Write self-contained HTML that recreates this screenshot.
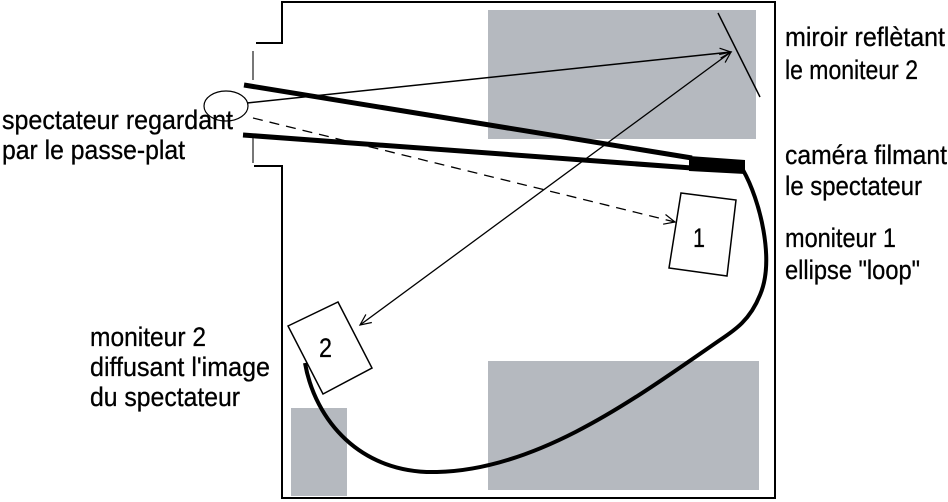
<!DOCTYPE html>
<html><head><meta charset="utf-8"><style>
html,body{margin:0;padding:0;background:#fff;}
svg{display:block;}
text{font-family:"Liberation Sans Narrow","Liberation Sans",sans-serif;font-size:27px;fill:#000;stroke:#000;stroke-width:0.3;}
</style></head><body>
<svg width="948" height="502" viewBox="0 0 948 502" xmlns="http://www.w3.org/2000/svg">
<defs>
<marker id="ah" markerWidth="14" markerHeight="12" refX="12" refY="6" orient="auto" markerUnits="userSpaceOnUse">
<path d="M1,1 L12,6 L1,11" fill="none" stroke="#000" stroke-width="1.2"/></marker>
<marker id="ahs" markerWidth="14" markerHeight="12" refX="12" refY="6" orient="auto-start-reverse" markerUnits="userSpaceOnUse">
<path d="M1,1 L12,6 L1,11" fill="none" stroke="#000" stroke-width="1.2"/></marker>
</defs>
<rect x="488" y="10" width="268" height="129" fill="#b5b9bf"/>
<rect x="488" y="361" width="271" height="129" fill="#b5b9bf"/>
<rect x="291" y="408" width="56" height="88" fill="#b5b9bf"/>
<path d="M256,43 H282 V2 H775 V498 H282 V166 H254" fill="none" stroke="#000" stroke-width="2"/>
<line x1="253" y1="51" x2="253" y2="80" stroke="#777" stroke-width="2"/>
<line x1="253" y1="137" x2="253" y2="163" stroke="#777" stroke-width="2"/>
<line x1="244" y1="85" x2="692" y2="158" stroke="#000" stroke-width="5"/>
<line x1="243" y1="135" x2="692" y2="168" stroke="#000" stroke-width="5"/>
<polygon points="689,156 745,160 745,174 689,171" fill="#000"/>
<path d="M743,170 C760,200 775,260 760,295 C750,320 735,330 720,340 C640,395 540,470 437,472 C360,474 315,420 305,363" fill="none" stroke="#000" stroke-width="4"/>
<line x1="718" y1="13" x2="760" y2="97" stroke="#000" stroke-width="1.5"/>
<ellipse cx="226" cy="106" rx="22" ry="15" fill="none" stroke="#000" stroke-width="1.2"/>
<line x1="247" y1="103" x2="731" y2="52" stroke="#000" stroke-width="1.5" marker-end="url(#ah)"/>
<line x1="360" y1="325" x2="731" y2="52" stroke="#000" stroke-width="1.3" marker-end="url(#ah)" marker-start="url(#ahs)"/>
<line x1="253" y1="118" x2="675" y2="222" stroke="#000" stroke-width="1.3" stroke-dasharray="10,7" marker-end="url(#ah)"/>
<polygon points="681,193 736,200 727,276 669,268" fill="#fff" stroke="#000" stroke-width="1.5"/>
<text x="693" y="247" textLength="12" lengthAdjust="spacingAndGlyphs">1</text>
<polygon points="288,326 338,302 372,368 323,394" fill="#fff" stroke="#000" stroke-width="1.5"/>
<text x="319" y="357" textLength="13" lengthAdjust="spacingAndGlyphs">2</text>
<text x="785" y="46" textLength="160" lengthAdjust="spacingAndGlyphs">miroir reflètant</text>
<text x="785" y="79" textLength="133" lengthAdjust="spacingAndGlyphs">le moniteur 2</text>
<text x="785" y="164" textLength="162" lengthAdjust="spacingAndGlyphs">caméra filmant</text>
<text x="785" y="195" textLength="137" lengthAdjust="spacingAndGlyphs">le spectateur</text>
<text x="785" y="247" textLength="111" lengthAdjust="spacingAndGlyphs">moniteur 1</text>
<text x="785" y="279" textLength="135" lengthAdjust="spacingAndGlyphs">ellipse "loop"</text>
<text x="2" y="129" textLength="231" lengthAdjust="spacingAndGlyphs">spectateur regardant</text>
<text x="2" y="159" textLength="183" lengthAdjust="spacingAndGlyphs">par le passe-plat</text>
<text x="90" y="346" textLength="116" lengthAdjust="spacingAndGlyphs">moniteur 2</text>
<text x="90" y="376" textLength="180" lengthAdjust="spacingAndGlyphs">diffusant l'image</text>
<text x="90" y="406" textLength="150" lengthAdjust="spacingAndGlyphs">du spectateur</text>
</svg>
</body></html>
